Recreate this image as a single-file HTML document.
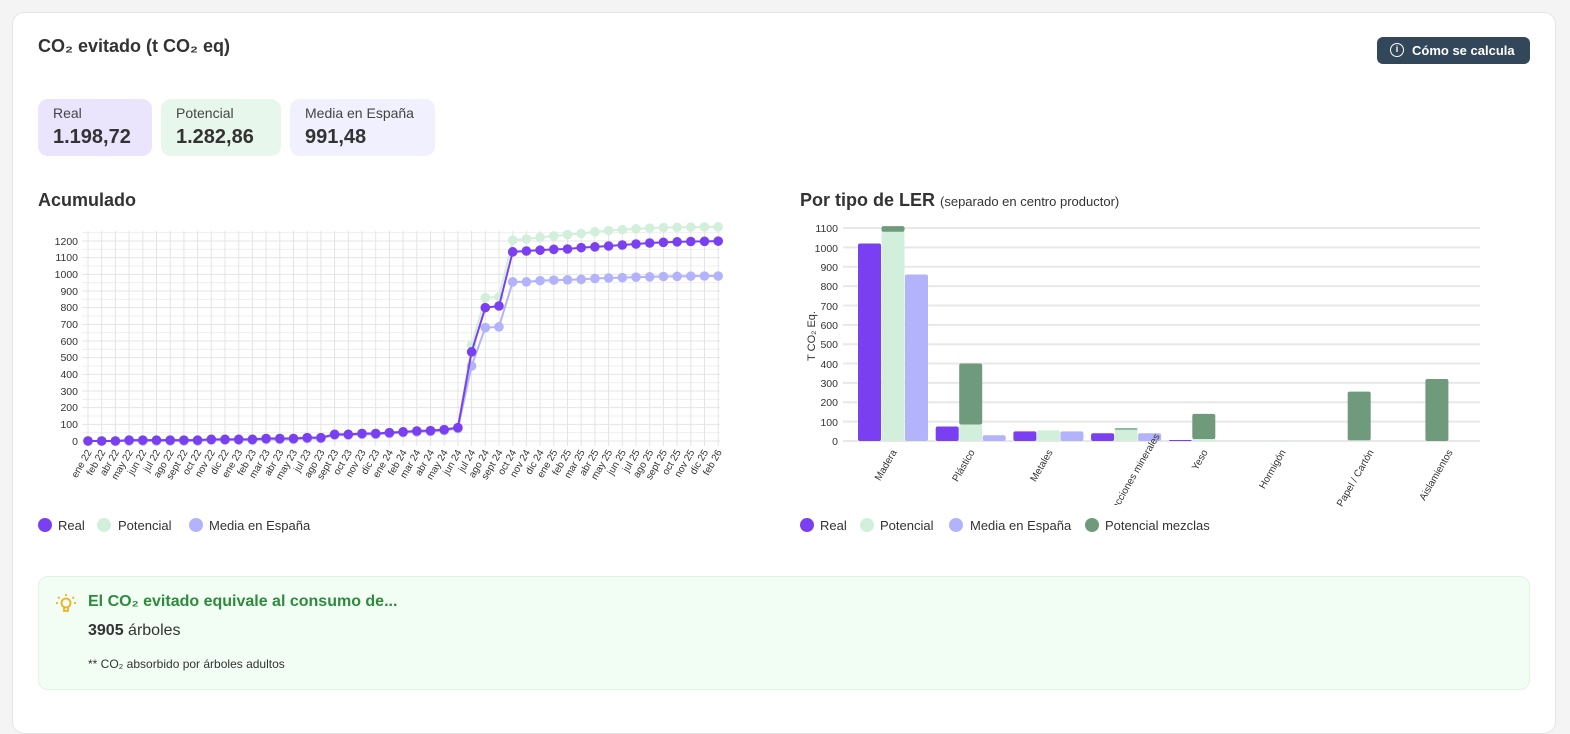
<!DOCTYPE html>
<html><head><meta charset="utf-8"><style>
body{margin:0;width:1570px;height:709px;background:#f4f4f5;font-family:"Liberation Sans",sans-serif;overflow:hidden;position:relative;color:#333}
.card{position:absolute;left:12px;top:12px;width:1542px;height:720px;background:#fff;border:1px solid #e4e4e7;border-radius:12px}
.a{position:absolute}
.box{position:absolute;top:99px;height:57px;border-radius:10px}
.box .l{position:absolute;left:15px;top:6px;font-size:14px;color:#444}
.box .v{position:absolute;left:15px;top:27px;font-size:20px;font-weight:bold;color:#333}
</style></head><body>
<div class="card"></div>
<div class="a" style="left:38px;top:36px;font-size:18px;font-weight:bold">CO₂ evitado (t CO₂ eq)</div>
<div class="a" style="left:1377px;top:37px;width:153px;height:27px;background:#33475b;border-radius:6px;color:#fff;font-size:13px;font-weight:bold;line-height:27px">
<span style="position:absolute;left:13px;top:6px;width:14px;height:14px;border:1.5px solid #fff;border-radius:50%;box-sizing:border-box;font-size:9px;line-height:11px;text-align:center">i</span>
<span style="position:absolute;left:35px">Cómo se calcula</span></div>
<div class="box" style="left:38px;width:114px;background:#ebe4fd"><div class="l">Real</div><div class="v">1.198,72</div></div>
<div class="box" style="left:161px;width:120px;background:#e8f7ec"><div class="l">Potencial</div><div class="v">1.282,86</div></div>
<div class="box" style="left:290px;width:145px;background:#f0f0fe"><div class="l">Media en España</div><div class="v">991,48</div></div>
<div class="a" style="left:38px;top:190px;font-size:18px;font-weight:bold">Acumulado</div>
<div class="a" style="left:800px;top:190px;font-size:18px;font-weight:bold">Por tipo de LER <span style="font-size:13px;font-weight:normal">(separado en centro productor)</span></div>

<div class="a" style="left:38px;top:576px;width:1492px;height:114px;background:#f2fdf4;border:1px solid #e1f3e5;border-radius:10px;box-sizing:border-box"></div>
<svg class="a" style="left:54px;top:592px" width="24" height="24" viewBox="0 0 24 24"><g fill="none" stroke="#f2b01e" stroke-width="1.8"><circle cx="12" cy="11" r="4.5"/><path d="M10 16v3h4v-3M12 2v2M4 5l1.5 1.5M20 5l-1.5 1.5M2 11h2M20 11h2"/></g></svg>
<div class="a" style="left:88px;top:593px;font-size:16px;font-weight:bold;color:#2e8b3e">El CO₂ evitado equivale al consumo de...</div>
<div class="a" style="left:88px;top:622px;font-size:16px"><b>3905</b> árboles</div>
<div class="a" style="left:88px;top:657px;font-size:12px">** CO₂ absorbido por árboles adultos</div>

<svg class="a" style="left:0;top:0" width="1570" height="709" font-family="Liberation Sans, sans-serif">
<defs><clipPath id="cp" clipPathUnits="userSpaceOnUse"><rect x="780" y="200" width="760" height="305"/></clipPath></defs>
<g id="lg"></g><g id="rg"></g>
<g font-size="10.5" fill="#333" text-anchor="end">
<text x="78" y="445">0</text><text x="78" y="428">100</text><text x="78" y="411">200</text><text x="78" y="395">300</text><text x="78" y="378">400</text><text x="78" y="361">500</text><text x="78" y="345">600</text><text x="78" y="328">700</text><text x="78" y="311">800</text><text x="78" y="295">900</text><text x="78" y="278">1000</text><text x="78" y="261">1100</text><text x="78" y="245">1200</text>
</g>
<g id="xl" font-size="10" fill="#333" text-anchor="end"></g>
<g font-size="10.5" fill="#333" text-anchor="end">
<text x="838" y="445">0</text><text x="838" y="426">100</text><text x="838" y="406">200</text><text x="838" y="387">300</text><text x="838" y="368">400</text><text x="838" y="348">500</text><text x="838" y="329">600</text><text x="838" y="310">700</text><text x="838" y="290">800</text><text x="838" y="271">900</text><text x="838" y="252">1000</text><text x="838" y="232">1100</text>
</g>
<text transform="translate(815,336) rotate(-90)" font-size="11" text-anchor="middle" fill="#333">T CO₂ Eq.</text>
<g font-size="10" fill="#333" text-anchor="end">
<text transform="translate(897,452) rotate(-60)">Madera</text>
<text transform="translate(975,452) rotate(-60)">Plástico</text>
<text transform="translate(1053,452) rotate(-60)">Metales</text>
<g clip-path="url(#cp)"><text transform="translate(1160,436) rotate(-60)">Fracciones minerales</text></g>
<text transform="translate(1208,452) rotate(-60)">Yeso</text>
<text transform="translate(1286,452) rotate(-60)">Hormigón</text>
<text transform="translate(1374,452) rotate(-60)">Papel / Cartón</text>
<text transform="translate(1453,452) rotate(-60)">Aislamientos</text>
</g>
<g font-size="13" fill="#333">
<circle cx="45" cy="525" r="7" fill="#7b3ff2"/><text x="58" y="530">Real</text>
<circle cx="104" cy="525" r="7" fill="#d1efdb"/><text x="118" y="530">Potencial</text>
<circle cx="196" cy="525" r="7" fill="#b3b3fc"/><text x="209" y="530">Media en España</text>
<circle cx="807" cy="525" r="7" fill="#7b3ff2"/><text x="820" y="530">Real</text>
<circle cx="867" cy="525" r="7" fill="#d1efdb"/><text x="880" y="530">Potencial</text>
<circle cx="956" cy="525" r="7" fill="#b3b3fc"/><text x="970" y="530">Media en España</text>
<circle cx="1092" cy="525" r="7" fill="#6f9a7c"/><text x="1105" y="530">Potencial mezclas</text>
</g>
</svg>
<script>
var NS="http://www.w3.org/2000/svg";
function el(p,t,a){var e=document.createElementNS(NS,t);for(var k in a)e.setAttribute(k,a[k]);document.getElementById(p).appendChild(e);return e;}
var X=function(i){return 88+13.7*i;},Y=function(v){return 441-v/6;};
for(var v=0;v<=1250;v+=50)el("lg","line",{x1:82,x2:720,y1:Y(v),y2:Y(v),stroke:v%100?"#efefef":"#e4e4e4","stroke-width":1});
for(var i=0;i<47;i++)el("lg","line",{x1:X(i),x2:X(i),y1:231,y2:446,stroke:"#e4e4e4","stroke-width":1});
var real=[0,0,0,5,5,5,5,5,5,10,10,10,10,15,15,15,20,20,40,40,45,45,50,55,60,62,68,80,535,800,810,1135,1140,1145,1150,1152,1160,1165,1170,1176,1182,1188,1192,1195,1197,1198,1199];
var pot=real.slice(),med=real.slice();
var pt=[575,860,865,1205,1212,1222,1230,1238,1245,1255,1262,1268,1273,1277,1280,1282,1283,1284,1285];
var mt=[450,680,685,955,955,962,965,967,970,975,978,980,983,985,987,988,989,990,990];
for(var i=0;i<28;i++){pot[i]=real[i]+2;med[i]=Math.max(0,real[i]-5);}
for(var i=28;i<47;i++){pot[i]=pt[i-28];med[i]=mt[i-28];}
function series(d,c){var s="";for(var i=0;i<47;i++)s+=X(i)+","+Y(d[i])+" ";el("lg","polyline",{points:s,fill:"none",stroke:c,"stroke-width":2});for(var i=0;i<47;i++)el("lg","circle",{cx:X(i),cy:Y(d[i]),r:4.8,fill:c});}
series(pot,"#d1efdb");series(med,"#b3b3fc");series(real,"#7b3ff2");
var labs="ene 22|feb 22|abr 22|may 22|jun 22|jul 22|ago 22|sept 22|oct 22|nov 22|dic 22|ene 23|feb 23|mar 23|abr 23|may 23|jul 23|ago 23|sept 23|oct 23|nov 23|dic 23|ene 24|feb 24|mar 24|abr 24|may 24|jun 24|jul 24|ago 24|sept 24|oct 24|nov 24|dic 24|ene 25|feb 25|mar 25|abr 25|may 25|jun 25|jul 25|ago 25|sept 25|oct 25|nov 25|dic 25|feb 26".split("|");
for(var i=0;i<47;i++){var t=el("xl","text",{transform:"translate("+(X(i)+4)+",452) rotate(-60)"});t.textContent=labs[i];}
var RY=function(v){return 441-v*0.1936;};
for(var v=0;v<=1100;v+=100)el("rg","line",{x1:843,x2:1480,y1:RY(v),y2:RY(v),stroke:"#e8e8e8","stroke-width":2});
function bar(x,w,b,t,c){if(t<=b)return;el("rg","rect",{x:x,y:RY(t),width:w,height:RY(b)-RY(t),fill:c,rx:2});}
var d=[[1020,1080,30,860],[75,85,315,30],[50,55,0,50],[40,58,8,40],[5,10,130,0],[0,3,0,0],[0,3,252,0],[0,0,320,0]];
for(var k=0;k<8;k++){var c=893+77.7*k,r=d[k];bar(c-35,23,0,r[0],"#7b3ff2");bar(c-11.5,23,r[1],r[1]+r[2],"#6f9a7c");bar(c-11.5,23,0,r[1],"#d1efdb");bar(c+12,23,0,r[3],"#b3b3fc");}
</script>
</body></html>
